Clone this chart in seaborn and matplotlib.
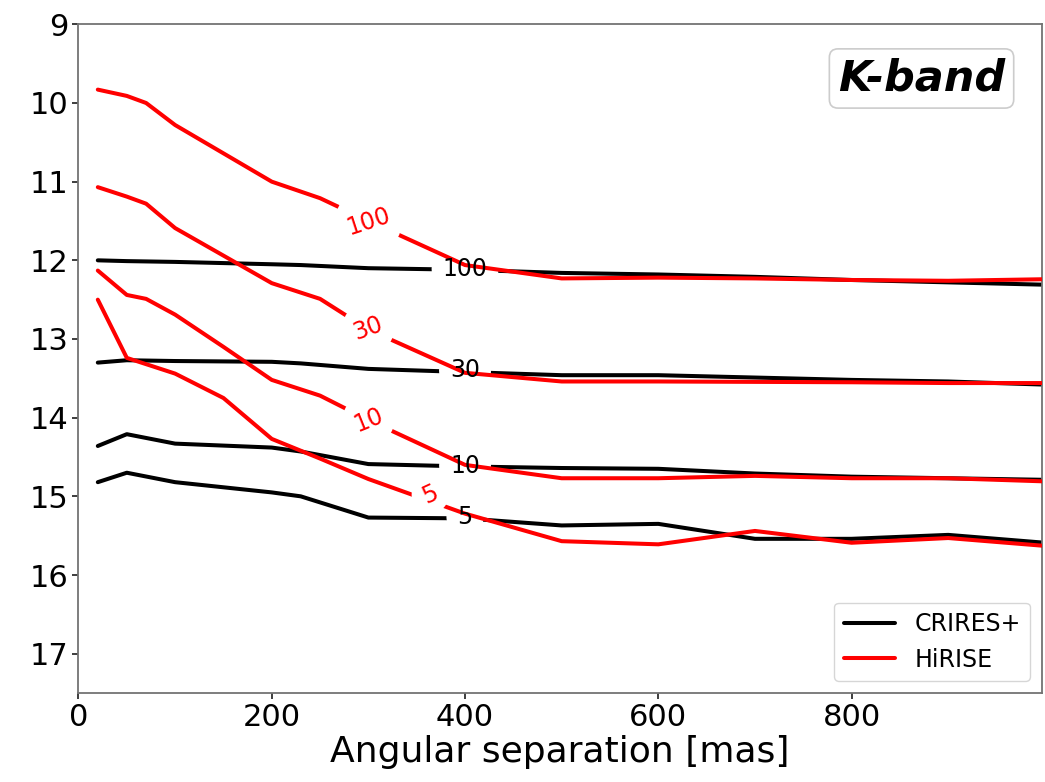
import numpy as np
import pandas as pd
import matplotlib
matplotlib.use("Agg")
import matplotlib.pyplot as plt
import seaborn as sns
from matplotlib.path import Path
from matplotlib.transforms import IdentityTransform
from matplotlib.lines import Line2D

# ---------------- data ----------------
sep_crires = [20, 50, 100, 200, 230, 300, 400, 500, 600, 700, 800, 900, 1000]
crires_100 = [12.00, 12.01, 12.02, 12.05, 12.06, 12.10, 12.12, 12.16, 12.18, 12.21, 12.25, 12.28, 12.31]
crires_30 = [13.30, 13.27, 13.28, 13.29, 13.31, 13.38, 13.42, 13.46, 13.46, 13.49, 13.52, 13.54, 13.58]
crires_10 = [14.36, 14.21, 14.33, 14.38, 14.43, 14.59, 14.62, 14.64, 14.65, 14.71, 14.75, 14.77, 14.79]
crires_5 = [14.82, 14.70, 14.82, 14.95, 15.00, 15.27, 15.28, 15.37, 15.35, 15.54, 15.54, 15.49, 15.59]

sep_hirise = [20, 50, 70, 100, 150, 200, 250, 300, 400, 500, 600, 700, 800, 900, 1000]
hirise_100 = [9.83, 9.91, 10.00, 10.28, 10.64, 11.00, 11.21, 11.50, 12.06, 12.23, 12.22, 12.23, 12.25, 12.26, 12.24]
hirise_30 = [11.07, 11.19, 11.28, 11.59, 11.94, 12.29, 12.49, 12.88, 13.43, 13.54, 13.54, 13.545, 13.55, 13.56, 13.56]
hirise_10 = [12.13, 12.44, 12.49, 12.69, 13.10, 13.52, 13.72, 14.03, 14.60, 14.77, 14.77, 14.74, 14.77, 14.77, 14.81]
hirise_5 = [12.50, 13.24, 13.32, 13.44, 13.75, 14.27, 14.52, 14.78, 15.22, 15.57, 15.61, 15.44, 15.59, 15.53, 15.63]

level_labels = ["100", "30", "10", "5"]
instruments = ["CRIRES+", "HiRISE"]
x_ticks = [0, 200, 400, 600, 800]
y_ticks = [9, 10, 11, 12, 13, 14, 15, 16, 17]

# inline label placement (layout)
crires_label_xy = [(400, 12.11), (400, 13.40), (400, 14.61), (400, 15.26)]
hirise_label_xy = [(300, 11.51), (300, 12.86), (300, 14.03), (364, 14.98)]
hirise_label_rot = [18, 20, 22, 25]

# ---------------- styling ----------------
sns.set_theme(style="ticks")
plt.rcParams["font.family"] = ["DejaVu Sans"]
plt.rcParams.update({
    "text.color": "black",
    "axes.labelcolor": "black",
    "axes.edgecolor": "0.45",
    "axes.linewidth": 1.3,
    "xtick.color": "0.15",
    "ytick.color": "0.15",
    "xtick.labelcolor": "black",
    "ytick.labelcolor": "black",
    "xtick.major.size": 4,
    "ytick.major.size": 4,
})

fig = plt.figure(figsize=(10.45, 7.82), dpi=100)
ax = fig.add_axes([0.0751, 0.1138, 0.9220, 0.8551])

lw = 2.9
colors = {"CRIRES+": "black", "HiRISE": "red"}

crires_lines = []
for vals in [crires_100, crires_30, crires_10, crires_5]:
    df = pd.DataFrame({"sep": sep_crires, "mag": vals})
    sns.lineplot(data=df, x="sep", y="mag", color=colors["CRIRES+"], linewidth=lw,
                 estimator=None, sort=False, ax=ax, zorder=2)
    crires_lines.append(ax.lines[-1])

hirise_lines = []
for vals in [hirise_100, hirise_30, hirise_10, hirise_5]:
    df = pd.DataFrame({"sep": sep_hirise, "mag": vals})
    sns.lineplot(data=df, x="sep", y="mag", color=colors["HiRISE"], linewidth=lw,
                 estimator=None, sort=False, ax=ax, zorder=3)
    hirise_lines.append(ax.lines[-1])

ax.set_xlim(0, 997)
ax.set_ylim(17.5, 9)
ax.set_xticks(x_ticks)
ax.set_yticks(y_ticks)
ax.tick_params(labelsize=22)
ax.set_xlabel("Angular separation [mas]", fontsize=26, labelpad=2, color="black")
ax.set_ylabel("")
for s in ["top", "right", "left", "bottom"]:
    ax.spines[s].set_visible(True)

# inline labels
crires_texts = []
for lab, (lx, ly) in zip(level_labels, crires_label_xy):
    t = ax.text(lx, ly, lab, color="black", fontsize=17, ha="center", va="center",
                rotation=0, rotation_mode="anchor", zorder=5)
    crires_texts.append(t)
hirise_texts = []
for lab, (lx, ly), rot in zip(level_labels, hirise_label_xy, hirise_label_rot):
    t = ax.text(lx, ly, lab, color="red", fontsize=17, ha="center", va="center",
                rotation=rot, rotation_mode="anchor", zorder=5)
    hirise_texts.append(t)

# legend
handles = [Line2D([], [], color=colors[k], lw=lw) for k in instruments]
leg = ax.legend(handles=handles, labels=instruments, loc="lower right", fontsize=17,
                handlelength=2.2, frameon=True)
for txt in leg.get_texts():
    txt.set_color("black")

# band tag
ax.text(0.875, 0.919, "K-band", transform=ax.transAxes, fontsize=31, color="black",
        fontweight="bold", fontstyle="italic", ha="center", va="center",
        bbox=dict(boxstyle="round,pad=0.2", fc="white", ec="0.8", lw=1.2), zorder=6)

# cut gaps in the lines where inline labels sit
fig.canvas.draw()
renderer = fig.canvas.get_renderer()


def hole_path(texts, pad):
    W, H = fig.bbox.width, fig.bbox.height
    verts = [(0, 0), (W, 0), (W, H), (0, H), (0, 0)]
    codes = [Path.MOVETO, Path.LINETO, Path.LINETO, Path.LINETO, Path.CLOSEPOLY]
    ang = np.linspace(0, -2 * np.pi, 49)
    for t in texts:
        rot = t.get_rotation()
        t.set_rotation(0)
        bb = t.get_window_extent(renderer)
        t.set_rotation(rot)
        cx, cy = (bb.x0 + bb.x1) / 2, (bb.y0 + bb.y1) / 2
        r = bb.width / 2 + pad
        pts = [(cx + r * np.cos(a), cy + r * np.sin(a)) for a in ang]
        verts += pts
        codes += [Path.MOVETO] + [Path.LINETO] * (len(pts) - 2) + [Path.CLOSEPOLY]
    return Path(verts, codes)


for line, t in zip(crires_lines, crires_texts):
    line.set_clip_path(hole_path([t], 11), IdentityTransform())
for line, t in zip(hirise_lines, hirise_texts):
    line.set_clip_path(hole_path([t], 11), IdentityTransform())

fig.savefig("out.png", dpi=100)
